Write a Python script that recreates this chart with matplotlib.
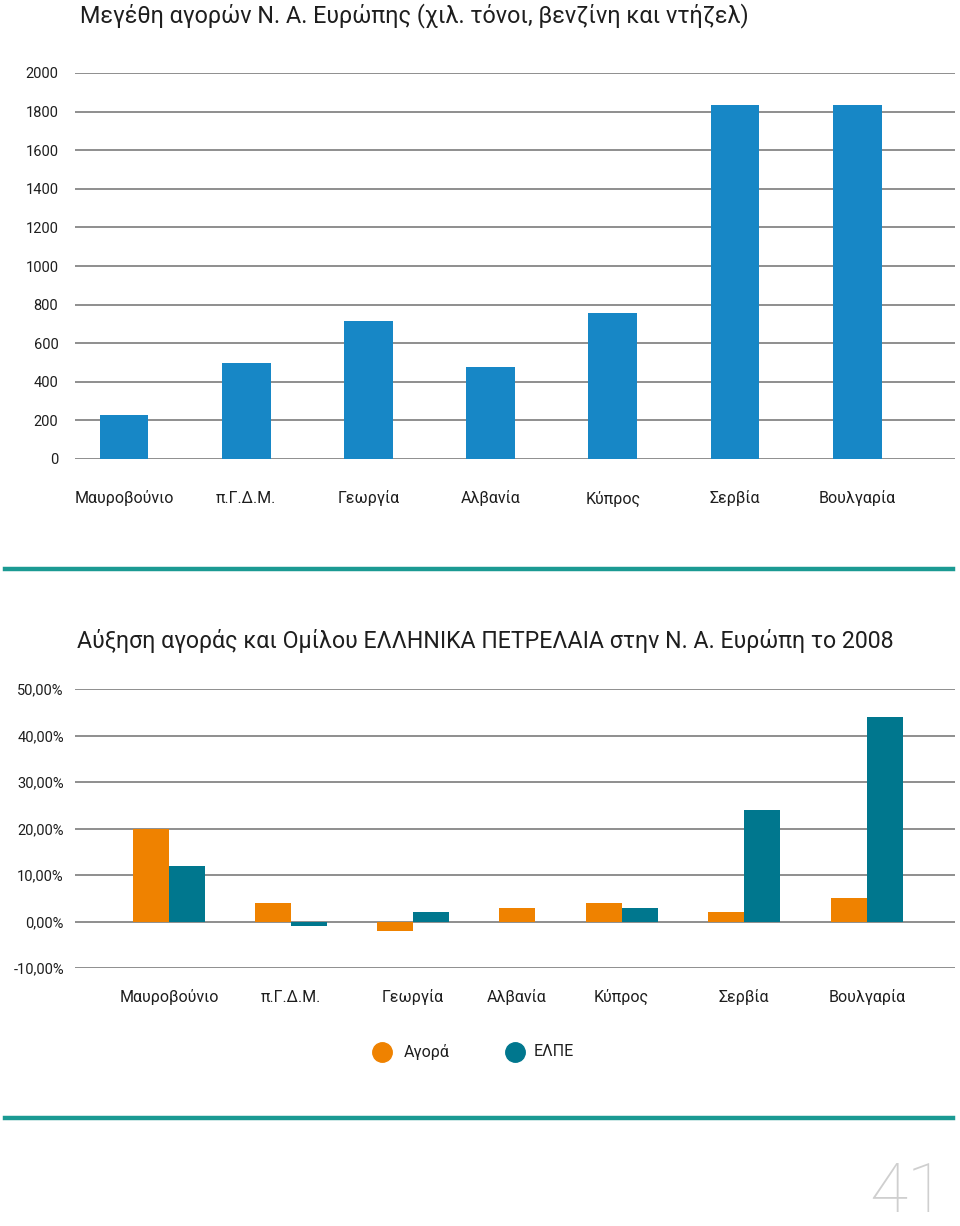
import matplotlib
matplotlib.use("Agg")
import matplotlib.pyplot as plt
import numpy as np
from matplotlib.lines import Line2D

plt.rcParams['font.family'] = ['Roboto', 'DejaVu Sans']

# ---- data ----
countries = ["Μαυροβούνιο", "π.Γ.Δ.Μ.", "Γεωργία", "Αλβανία", "Κύπρος", "Σερβία", "Βουλγαρία"]
market_size = [230, 500, 715, 475, 755, 1835, 1835]
growth_market = [20, 4, -2, 3, 4, 2, 5]
growth_elpe = [12, -1, 2, None, 3, 24, 44]
top_ticks = [0, 200, 400, 600, 800, 1000, 1200, 1400, 1600, 1800, 2000]
bottom_ticks = [-10, 0, 10, 20, 30, 40, 50]
bottom_ticklabels = ["-10,00%", "0,00%", "10,00%", "20,00%", "30,00%", "40,00%", "50,00%"]
legend_labels = ["Αγορά", "ΕΛΠΕ"]

title_top = "Μεγέθη αγορών Ν. Α. Ευρώπης (χιλ. τόνοι, βενζίνη και ντήζελ)"
title_bottom = "Αύξηση αγοράς και Ομίλου ΕΛΛΗΝΙΚΑ ΠΕΤΡΕΛΑΙΑ στην Ν. Α. Ευρώπη το 2008"

# ---- layout / style ----
W, H = 960, 1226
BLUE = "#1787c6"
ORANGE = "#ef8200"
TEAL = "#00778e"
GRID = "#8e8e8e"
RULE = "#1b9a93"
TXT = "#1e1e1e"
bottom_group_pos = [0, 1, 2, 2.85, 3.71, 4.71, 5.72]

fig = plt.figure(figsize=(W / 100, H / 100), dpi=100)

def fx(px):
    return px / W

def fy(py):
    return 1 - py / H

# ---------- top chart ----------
ax1 = fig.add_axes([fx(75), fy(459), fx(880), (459 - 73) / H])
x1 = np.arange(len(countries))
ax1.bar(x1, market_size, width=0.4, color=BLUE, zorder=3)
ax1.set_ylim(0, 2000)
ax1.set_xlim((75 - 124) / 122.2, (955 - 124) / 122.2)
ax1.set_yticks(top_ticks)
ax1.set_yticklabels([str(t) for t in top_ticks])
ax1.set_xticks(x1)
ax1.set_xticklabels(countries)
ax1.yaxis.grid(True, color=GRID, lw=1.4, zorder=0)
ax1.set_axisbelow(True)
for s in ax1.spines.values():
    s.set_visible(False)
ax1.tick_params(axis='y', length=0, pad=12, labelsize=10.5, labelcolor=TXT)
ax1.tick_params(axis='x', length=0, pad=32, labelsize=11.5, labelcolor=TXT)
for lab in ax1.get_xticklabels():
    lab.set_verticalalignment('baseline')

fig.text(fx(80), fy(16), title_top, fontsize=16.8, fontweight='normal',
         color=TXT, ha='left', va='center')

# separator rules
fig.add_artist(Line2D([fx(5), fx(953)], [fy(569), fy(569)], color=RULE, lw=3.2))
fig.add_artist(Line2D([fx(5), fx(953)], [fy(1118), fy(1118)], color=RULE, lw=3.2))

# ---------- bottom chart ----------
fig.text(fx(77), fy(641), title_bottom, fontsize=16.65, fontweight='normal',
         color=TXT, ha='left', va='center')

ax2 = fig.add_axes([fx(75), fy(968), fx(880), (968 - 689) / H])
bw = 0.295
for i, pos in enumerate(bottom_group_pos):
    m = growth_market[i]
    e = growth_elpe[i]
    if e is None:
        ax2.bar(pos, m, width=bw, color=ORANGE, zorder=3)
    else:
        ax2.bar(pos - bw / 2, m, width=bw, color=ORANGE, zorder=3)
        ax2.bar(pos + bw / 2, e, width=bw, color=TEAL, zorder=3)
ax2.set_ylim(-10, 50)
ax2.set_xlim((75 - 169) / 122, (955 - 169) / 122)
ax2.set_yticks(bottom_ticks)
ax2.set_yticklabels(bottom_ticklabels)
ax2.set_xticks(bottom_group_pos)
ax2.set_xticklabels(countries)
ax2.yaxis.grid(True, color=GRID, lw=1.4, zorder=0)
ax2.set_axisbelow(True)
for s in ax2.spines.values():
    s.set_visible(False)
ax2.tick_params(axis='y', length=0, pad=8, labelsize=10.5, labelcolor=TXT)
ax2.tick_params(axis='x', length=0, pad=24.5, labelsize=11.5, labelcolor=TXT)
for lab in ax2.get_xticklabels():
    lab.set_verticalalignment('baseline')

# legend
leg_y = fy(1052)
fig.add_artist(Line2D([fx(382)], [leg_y], marker='o', markersize=14, color=ORANGE, lw=0))
fig.text(fx(404), leg_y, legend_labels[0], fontsize=11.5, color=TXT, ha='left', va='center')
fig.add_artist(Line2D([fx(515)], [leg_y], marker='o', markersize=14, color=TEAL, lw=0))
fig.text(fx(534), leg_y, legend_labels[1], fontsize=11.5, color=TXT, ha='left', va='center')

# page number
fig.text(fx(945), fy(1212), "41", fontsize=50, fontweight='ultralight', color="#cfcfcf",
         ha='right', va='baseline')

fig.savefig("out.png", dpi=100)
